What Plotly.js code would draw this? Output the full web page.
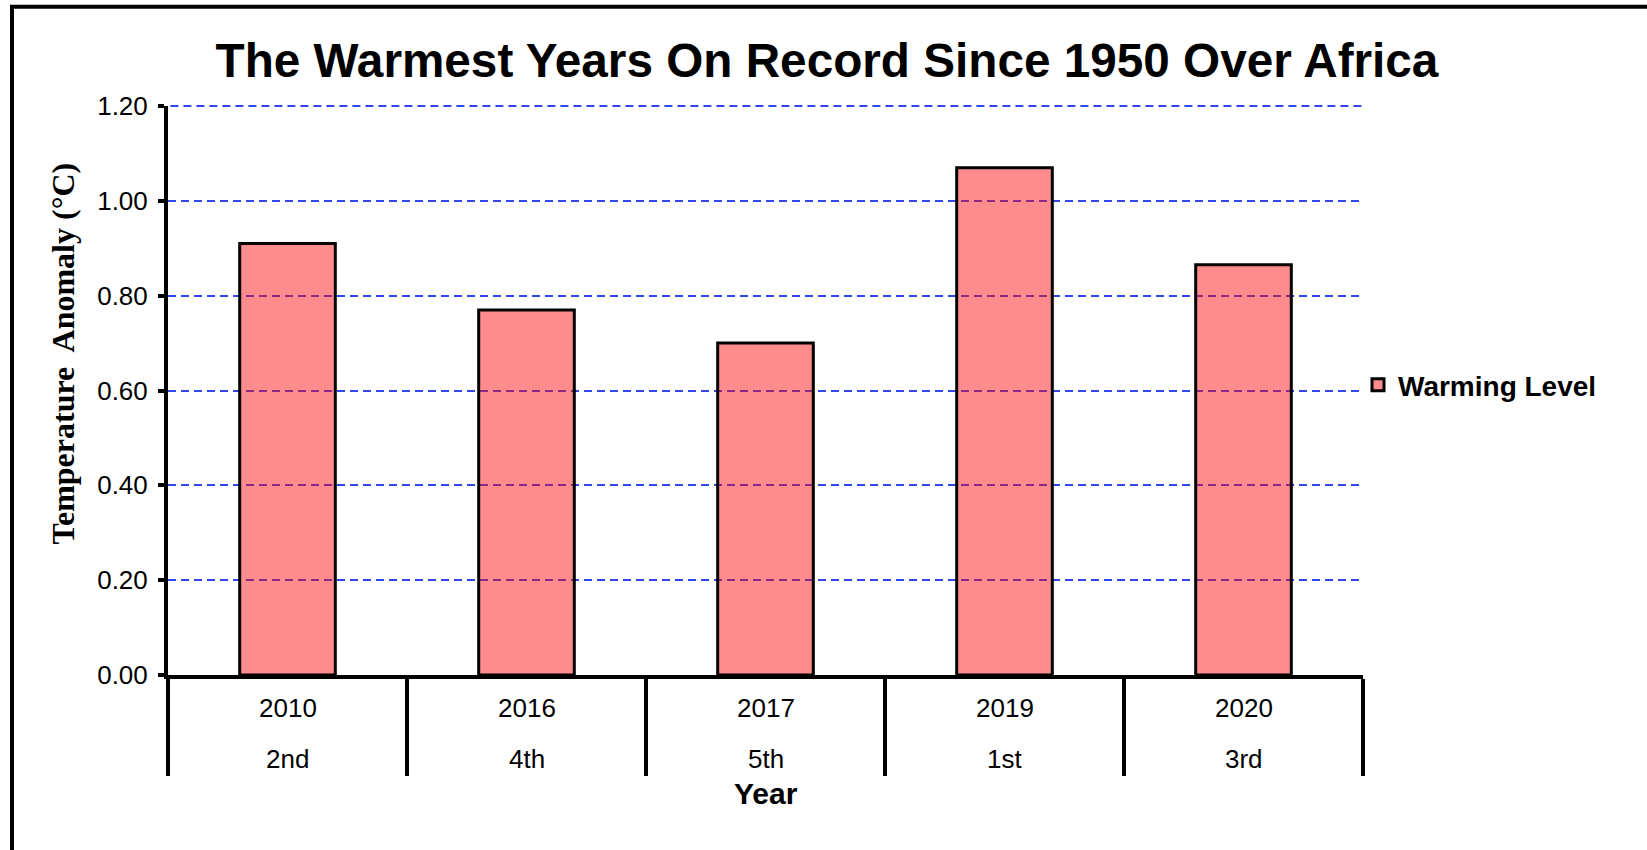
<!DOCTYPE html>
<html>
<head>
<meta charset="utf-8">
<script src="https://cdn.plot.ly/plotly-3.0.1.min.js"></script>
<style>
  html, body { margin: 0; padding: 0; background: #ffffff; }
  #chart { width: 1647px; height: 850px; }
</style>
</head>
<body>
<div id="chart"></div>
<script>
// Warmest years since 1950 over Africa: temperature anomaly and rank
const years = ['2010', '2016', '2017', '2019', '2020'];
const ranks = ['2nd', '4th', '5th', '1st', '3rd'];
const anomalies = [0.91, 0.77, 0.70, 1.07, 0.865];
const yTickValues = [0.0, 0.2, 0.4, 0.6, 0.8, 1.0, 1.2];

const seriesName = 'Warming Level';
const chartTitle = 'The Warmest Years On Record Since 1950 Over Africa';
const yTitle = 'Temperature\u00a0 Anomaly (°C)';
const xTitle = 'Year';

const sans = 'Liberation Sans, Arial, sans-serif';
const serif = 'Liberation Serif, Times New Roman, serif';
const gridColor = '#3246f0';
const gridDash = '8px,5px';

const trace = {
  type: 'bar',
  name: seriesName,
  x: years,
  y: anomalies,
  marker: {
    color: 'rgba(255,0,0,0.45)',
    line: { color: '#000000', width: 3 }
  },
  showlegend: true,
  hoverinfo: 'x+y'
};

// Year row and rank row under the category axis (x given as category index)
const labelAnnotations = [];
years.forEach((yr, i) => {
  labelAnnotations.push({
    x: i, xref: 'x', y: -0.058, yref: 'paper',
    text: yr, showarrow: false, xanchor: 'center', yanchor: 'middle',
    font: { family: sans, size: 26, color: '#000000' }
  });
  labelAnnotations.push({
    x: i, xref: 'x', y: -0.148, yref: 'paper',
    text: ranks[i], showarrow: false, xanchor: 'center', yanchor: 'middle',
    font: { family: sans, size: 26, color: '#000000' }
  });
});

const topTick = yTickValues[yTickValues.length - 1];

const layout = {
  width: 1647,
  height: 850,
  margin: { l: 168, r: 284, t: 106, b: 175, pad: 0 },
  paper_bgcolor: '#ffffff',
  plot_bgcolor: '#ffffff',
  bargap: 0.6,
  title: {
    text: chartTitle,
    x: 827 / 1647, xref: 'container', xanchor: 'center',
    y: 1 - 60 / 850, yref: 'container', yanchor: 'middle',
    font: { family: sans, size: 47.7, color: '#000000', weight: 'bold' }
  },
  xaxis: {
    type: 'category',
    range: [-0.5, years.length - 0.5],
    showline: true, linecolor: '#000000', linewidth: 4,
    ticks: 'outside', tickson: 'boundaries', ticklen: 97, tickwidth: 4, tickcolor: '#000000',
    showticklabels: false,
    showgrid: false, zeroline: false,
    fixedrange: true
  },
  yaxis: {
    range: [0, topTick],
    tickmode: 'array',
    tickvals: yTickValues,
    ticktext: yTickValues.map(v => v.toFixed(2)),
    showline: true, linecolor: '#000000', linewidth: 4,
    ticks: 'outside', ticklen: 6, tickwidth: 4, tickcolor: '#000000',
    ticklabelstandoff: 5,
    tickfont: { family: sans, size: 26, color: '#000000' },
    showgrid: true, gridcolor: gridColor, gridwidth: 2, griddash: gridDash,
    zeroline: false,
    fixedrange: true
  },
  legend: {
    x: (1358 - 168) / 1195, xanchor: 'left', xref: 'paper',
    y: (675 - 385) / 569, yanchor: 'middle', yref: 'paper',
    bgcolor: 'rgba(0,0,0,0)', borderwidth: 0,
    font: { family: sans, size: 28, color: '#000000', weight: 'bold' }
  },
  annotations: labelAnnotations.concat([
    {
      x: -0.0879, xref: 'paper', y: (675 - 353.5) / 569, yref: 'paper',
      text: yTitle, textangle: -90, showarrow: false,
      xanchor: 'center', yanchor: 'middle',
      font: { family: serif, size: 32, color: '#000000', weight: 'bold' }
    },
    {
      x: 0.5, xref: 'paper', y: -0.209, yref: 'paper',
      text: xTitle, showarrow: false, xanchor: 'center', yanchor: 'middle',
      font: { family: sans, size: 30, color: '#000000', weight: 'bold' }
    }
  ]),
  shapes: [
    {
      // gridline along the top edge of the value axis (paper-referenced so it is not clipped)
      type: 'line', xref: 'paper', yref: 'paper',
      x0: 0.002, x1: 1, y0: 1, y1: 1,
      line: { color: gridColor, width: 2, dash: gridDash }, layer: 'above'
    },
    {
      // outer chart frame (right and bottom edges run past the page)
      type: 'rect', xref: 'paper', yref: 'paper',
      x0: (12 - 168) / 1195, x1: 2, y0: -1, y1: (675 - 6.7) / 569,
      line: { color: '#000000', width: 4 }, fillcolor: 'rgba(0,0,0,0)', layer: 'above'
    }
  ]
};

Plotly.newPlot('chart', [trace], layout, { displayModeBar: false, staticPlot: true });
</script>
</body>
</html>
